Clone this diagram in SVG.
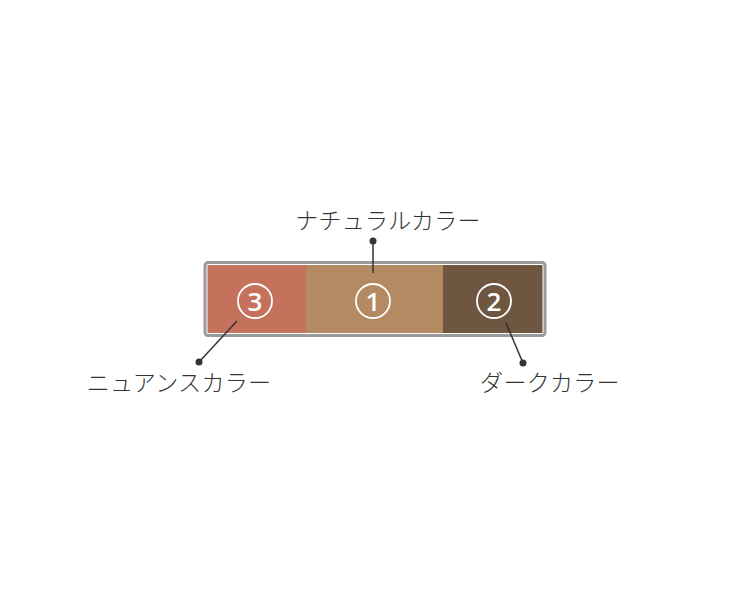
<svg xmlns="http://www.w3.org/2000/svg" width="750" height="600" viewBox="0 0 750 600">
<style>
.lbl{font-family:"Noto Sans CJK JP","Noto Sans",sans-serif;font-size:23px;font-weight:300;letter-spacing:0.3px;fill:#333;text-anchor:middle;}
.num{font-family:"Open Sans","Liberation Sans",sans-serif;font-size:26px;font-weight:600;fill:#fff;text-anchor:middle;}
.ring{fill:none;stroke:#fff;stroke-width:1.8;}
.lead{stroke:#333;stroke-width:1.5;fill:none;}
.dot{fill:#333;}
</style>
<rect width="750" height="600" fill="#fff"/>
<g id="palette">
<rect x="205" y="262.5" width="340" height="73" rx="3" fill="#fff" stroke="#9a9a9a" stroke-width="3"/>
</g>
<g id="nuance">
<rect x="207.5" y="265" width="99" height="68" fill="#C4725C"/>
<circle class="ring" cx="255" cy="301" r="17"/>
<text class="num" x="255" y="310.5">3</text>
</g>
<g id="natural">
<rect x="306" y="265" width="137.5" height="68" fill="#B38A62"/>
<circle class="ring" cx="373" cy="301" r="17"/>
<text class="num" x="373" y="310.5">1</text>
</g>
<g id="dark">
<rect x="443" y="265" width="99.5" height="68" fill="#6F5640"/>
<circle class="ring" cx="494" cy="301" r="17"/>
<text class="num" x="494" y="310.5">2</text>
</g>
<g id="connectors">
<line class="lead" x1="373" y1="241" x2="373" y2="273"/>
<circle class="dot" cx="373" cy="241" r="3.5"/>
<line class="lead" x1="237" y1="321" x2="199" y2="362"/>
<circle class="dot" cx="199" cy="362" r="3.5"/>
<line class="lead" x1="506" y1="323" x2="523" y2="363"/>
<circle class="dot" cx="523" cy="363" r="3.5"/>
</g>
<g id="labels">
<text class="lbl" x="388" y="229">ナチュラルカラー</text>
<text class="lbl" x="179" y="391">ニュアンスカラー</text>
<text class="lbl" x="550" y="391">ダークカラー</text>
</g>
</svg>
